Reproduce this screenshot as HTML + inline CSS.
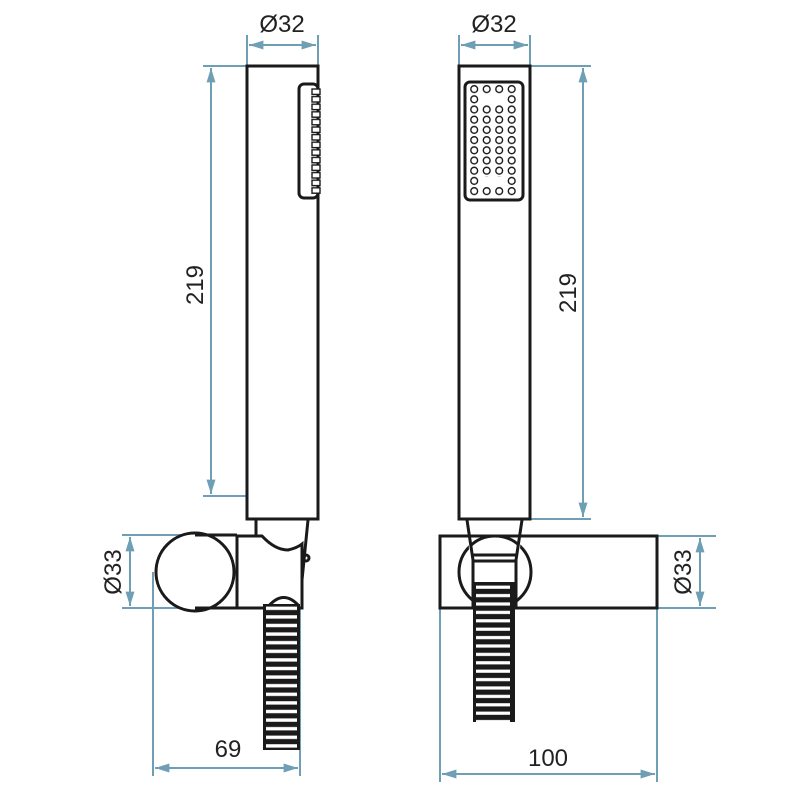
<!DOCTYPE html>
<html><head><style>html,body{margin:0;padding:0;background:#fff}svg{display:block}</style></head>
<body>
<svg width="800" height="800" viewBox="0 0 800 800" xmlns="http://www.w3.org/2000/svg" font-family="Liberation Sans, sans-serif">
<defs>
<pattern id="hoseL" patternUnits="userSpaceOnUse" x="263" y="604" width="40" height="8.6">
<rect x="0" y="0" width="40" height="8.6" fill="#1a1a1a"/><rect x="3" y="2.6" width="31" height="3.4" fill="#fff"/></pattern>
<pattern id="hoseR" patternUnits="userSpaceOnUse" x="473" y="583" width="42" height="8.4">
<rect x="0" y="0" width="42" height="8.4" fill="#1a1a1a"/><rect x="3" y="2.6" width="34" height="3.2" fill="#fff"/></pattern>
<pattern id="dots" patternUnits="userSpaceOnUse" x="468" y="84" width="12.5" height="10.2">
<circle cx="6.2" cy="5.1" r="3.4" fill="none" stroke="#1a1a1a" stroke-width="1.4"/></pattern>
<pattern id="sq" patternUnits="userSpaceOnUse" x="310" y="88" width="12" height="7.6">
<rect x="2" y="1" width="8" height="5.4" fill="#fff" stroke="#1a1a1a" stroke-width="1.4"/></pattern>
<marker id="ar" viewBox="0 0 16 10" refX="16" refY="5" markerWidth="16" markerHeight="9" markerUnits="userSpaceOnUse" orient="auto-start-reverse">
<path d="M0,0 L16,5 L0,10 z" fill="#6f9fb5"/></marker>
</defs>

<g stroke="#6f9fb5" stroke-width="2" fill="none">
<line x1="247" y1="35" x2="247" y2="66"/><line x1="318" y1="35" x2="318" y2="66"/>
<line x1="249" y1="45" x2="316" y2="45" marker-start="url(#ar)" marker-end="url(#ar)"/>
<line x1="203" y1="66" x2="247" y2="66"/><line x1="203" y1="496" x2="247" y2="496"/>
<line x1="211" y1="68" x2="211" y2="494" marker-start="url(#ar)" marker-end="url(#ar)"/>
<line x1="122" y1="535" x2="195" y2="535"/><line x1="122" y1="608" x2="195" y2="608"/>
<line x1="130" y1="537" x2="130" y2="606" marker-start="url(#ar)" marker-end="url(#ar)"/>
<line x1="153" y1="572" x2="153" y2="776"/><line x1="300" y1="604" x2="300" y2="776"/>
<line x1="155" y1="768" x2="298" y2="768" marker-start="url(#ar)" marker-end="url(#ar)"/>

<line x1="459" y1="35" x2="459" y2="66"/><line x1="530" y1="35" x2="530" y2="66"/>
<line x1="461" y1="45" x2="528" y2="45" marker-start="url(#ar)" marker-end="url(#ar)"/>
<line x1="530" y1="66" x2="591" y2="66"/><line x1="530" y1="519" x2="591" y2="519"/>
<line x1="583" y1="68" x2="583" y2="517" marker-start="url(#ar)" marker-end="url(#ar)"/>
<line x1="657" y1="536" x2="716" y2="536"/><line x1="657" y1="608" x2="716" y2="608"/>
<line x1="700" y1="538" x2="700" y2="606" marker-start="url(#ar)" marker-end="url(#ar)"/>
<line x1="440" y1="608" x2="440" y2="782"/><line x1="657" y1="608" x2="657" y2="782"/>
<line x1="442" y1="774" x2="655" y2="774" marker-start="url(#ar)" marker-end="url(#ar)"/>
</g>
<g fill="#222" font-size="24">
<text x="282" y="32" text-anchor="middle">Ø32</text>
<text x="494" y="32" text-anchor="middle">Ø32</text>
<text x="228" y="757" text-anchor="middle">69</text>
<text x="548" y="766" text-anchor="middle">100</text>
<text transform="translate(203,285) rotate(-90)" text-anchor="middle">219</text>
<text transform="translate(576,293) rotate(-90)" text-anchor="middle">219</text>
<text transform="translate(121,572) rotate(-90)" text-anchor="middle">Ø33</text>
<text transform="translate(691,572) rotate(-90)" text-anchor="middle">Ø33</text>
</g>

<g stroke="#1a1a1a" stroke-width="3" fill="none">
<rect x="247" y="66" width="71" height="453" fill="#fff"/>
<rect x="299" y="84" width="19" height="114" rx="5" fill="#fff"/>
</g>
<rect x="310" y="88" width="12" height="106" fill="url(#sq)"/>
<g stroke="#1a1a1a" stroke-width="3" fill="none">
<path d="M256,520 L256,536 M308,520 L302,580"/>
<path d="M237,536 L262,536 Q275,550 288,550 Q297,548 302,544 L302,608 L237,608 Z" fill="#fff"/>
<line x1="237" y1="536" x2="237" y2="608"/>
<circle cx="195" cy="572" r="39" fill="#fff"/>
<line x1="195" y1="535" x2="237" y2="535"/><line x1="195" y1="608" x2="237" y2="608"/>
<circle cx="306" cy="558" r="3"/>
<path d="M267,608 Q283,588 299,606" fill="#fff"/>
</g>
<rect x="263" y="604" width="37" height="146" fill="url(#hoseL)"/>

<g stroke="#1a1a1a" stroke-width="3" fill="none">
<rect x="459" y="66" width="71" height="453" fill="#fff"/>
<rect x="465" y="82" width="58" height="118" rx="5" fill="#fff"/>
<rect x="440" y="536" width="217" height="72" fill="#fff"/>
<circle cx="495" cy="572" r="36" fill="#fff"/>
<path d="M467,520 L473,560 L473,608 M522,520 L516,560 L516,608" fill="#fff"/>
<line x1="473" y1="555" x2="516" y2="555"/>
<line x1="473" y1="561" x2="516" y2="561"/>
</g>
<rect x="468" y="84" width="50" height="112" fill="url(#dots)"/>
<rect x="481" y="95" width="24" height="9" fill="#fff"/>
<rect x="481" y="177" width="24" height="9" fill="#fff"/>
<rect x="473" y="582" width="42" height="140" fill="url(#hoseR)"/>
</svg>
</body></html>
